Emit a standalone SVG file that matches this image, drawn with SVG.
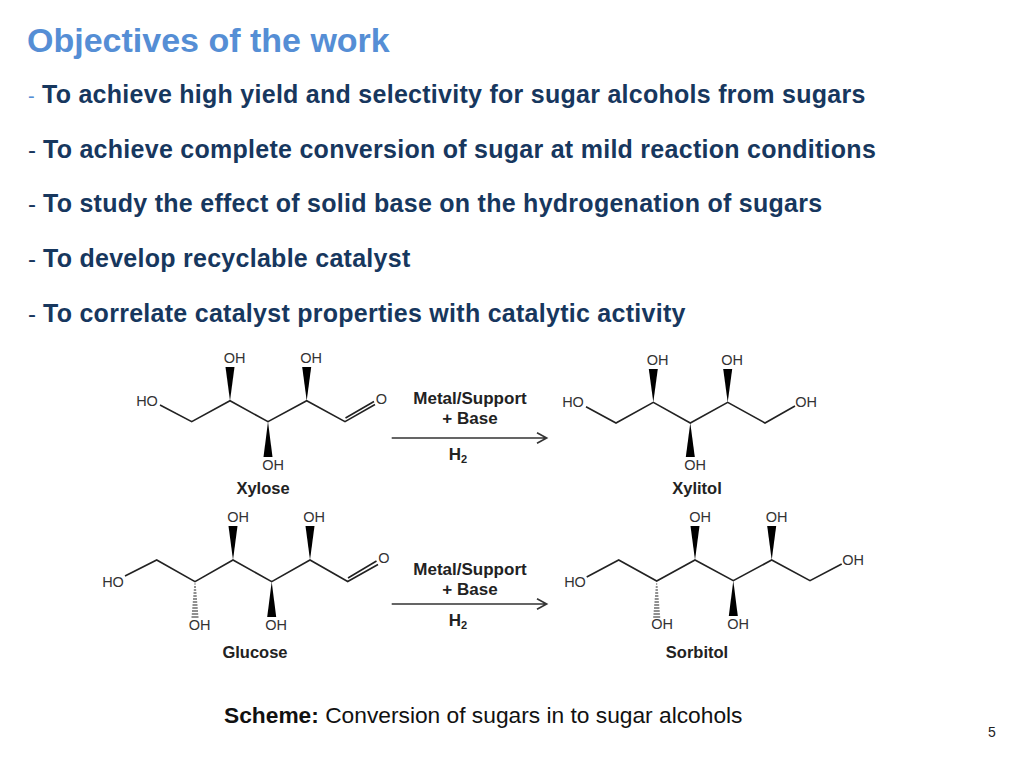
<svg xmlns="http://www.w3.org/2000/svg" width="1024" height="768" viewBox="0 0 1024 768">
<style>
text{font-family:"Liberation Sans",Arial,sans-serif}
.title{font-size:34px;font-weight:bold;fill:#558ed5}
.b{font-size:25px;font-weight:bold;fill:#17375e;letter-spacing:.27px}
.d{font-size:24px;fill:#17375e}
.bond{fill:none;stroke:#222;stroke-width:1.6;stroke-linejoin:miter}
.hash{fill:none;stroke:#222;stroke-width:1.2}
.w{fill:#000}
.a{font-size:14.5px;fill:#333;text-anchor:middle}
.n{font-size:16.5px;font-weight:bold;fill:#222;text-anchor:middle}
.r{font-size:17px;font-weight:bold;fill:#222;text-anchor:middle}
.arrow{fill:none;stroke:#333;stroke-width:1.6}
</style>
<rect width="1024" height="768" fill="#fff"/>
<g id="title"><text class="title" x="27" y="52">Objectives of the work</text></g>
<g id="objectives">
<text class="d" x="28" y="103" style="fill:#558ed5;font-size:20px">-</text><text class="b" x="42" y="103">To achieve high yield and selectivity for sugar alcohols from sugars</text>
<text class="d" x="28" y="158">-</text><text class="b" x="43" y="158">To achieve complete conversion of sugar at mild reaction conditions</text>
<text class="d" x="28" y="212">-</text><text class="b" x="43" y="212">To study the effect of solid base on the hydrogenation of sugars</text>
<text class="d" x="28" y="267">-</text><text class="b" x="43" y="267">To develop recyclable catalyst</text>
<text class="d" x="28" y="322">-</text><text class="b" x="43" y="322">To correlate catalyst properties with catalytic activity</text>
</g>
<g id="xylose">
<path class="bond" d="M160 405L191.700 421.700L230 400.700L268 421.700L306.700 400.700L345 421.700L375 404.500M345.500 418L374 401.500"/>
<path class="w" d="M230 400.700L225.500 367L234.500 367Z"/>
<path class="w" d="M306.700 400.700L302.200 367L311.200 367Z"/>
<path class="w" d="M268 421.700L263.500 457L272.500 457Z"/>
<text class="a" x="147" y="406">HO</text><text class="a" x="234.500" y="363">OH</text><text class="a" x="311" y="363">OH</text><text class="a" x="273" y="470">OH</text><text class="a" x="381.500" y="404">O</text>
<text class="n" x="263" y="494">Xylose</text>
</g>
<g id="glucose">
<path class="bond" d="M125 576L156.700 560L195 581.700L233 560L271.700 581.700L310 560L347.700 581.500L378 564.500M348 578L376.500 561"/>
<path class="w" d="M233 560L228.500 526L237.500 526Z"/>
<path class="w" d="M310 560L305.500 526L314.500 526Z"/>
<path class="w" d="M271.700 581.700L267.200 617L276.200 617Z"/>
<path class="hash" d="M194.500 584H195.500M194 587H196M193.800 590H196.200M193.500 593H196.500M193.300 596H196.700M193 599H197M192.800 602H197.200M192.500 605H197.500M192.300 608H197.700M192 611H198M191.800 614H198.200M191.500 617H198.500"/>
<text class="a" x="113" y="587">HO</text><text class="a" x="238" y="522">OH</text><text class="a" x="314" y="522">OH</text><text class="a" x="199.500" y="630">OH</text><text class="a" x="276" y="630">OH</text><text class="a" x="384" y="563">O</text>
<text class="n" x="255" y="658">Glucose</text>
</g>
<g id="xylitol">
<path class="bond" d="M586 406.700L616 423L653.300 402.300L690.300 423L727.700 402.300L765 423L795 406"/>
<path class="w" d="M653.300 402.300L648.800 369L657.800 369Z"/>
<path class="w" d="M727.700 402.300L723.200 369L732.200 369Z"/>
<path class="w" d="M690.300 423L685.800 457L694.800 457Z"/>
<text class="a" x="573" y="407">HO</text><text class="a" x="657.500" y="365">OH</text><text class="a" x="732" y="365">OH</text><text class="a" x="695" y="470">OH</text><text class="a" x="806" y="407">OH</text>
<text class="n" x="697" y="494">Xylitol</text>
</g>
<g id="sorbitol">
<path class="bond" d="M586.700 577L618.700 560L656.700 581L695 560L733.300 580.700L771.700 560L810 580.700L841.700 564"/>
<path class="w" d="M695 560L690.500 526L699.500 526Z"/>
<path class="w" d="M771.700 560L767.200 526L776.200 526Z"/>
<path class="w" d="M733.300 580.700L728.800 616L737.800 616Z"/>
<path class="hash" d="M656.200 584H657.200M655.700 587H657.700M655.500 590H657.900M655.200 593H658.200M655 596H658.400M654.700 599H658.700M654.500 602H658.900M654.200 605H659.200M654 608H659.400M653.700 611H659.700M653.500 614H659.900M653.200 617H660.200"/>
<text class="a" x="575" y="587">HO</text><text class="a" x="700" y="522">OH</text><text class="a" x="776.500" y="522">OH</text><text class="a" x="662" y="629">OH</text><text class="a" x="738" y="629">OH</text><text class="a" x="853" y="565">OH</text>
<text class="n" x="697" y="658">Sorbitol</text>
</g>
<g id="connectors">
<path class="arrow" d="M391.700 438H546.500M537 432.700L546.700 438L537 443.300"/>
<path class="arrow" d="M391.700 604H546.500M537 598.700L546.700 604L537 609.300"/>
</g>
<g id="reaction-labels">
<text class="r" x="470" y="404">Metal/Support</text><text class="r" x="470" y="424">+ Base</text>
<text class="r" x="458" y="460">H<tspan font-size="11" dy="3">2</tspan></text>
<text class="r" x="470" y="575">Metal/Support</text><text class="r" x="470" y="595">+ Base</text>
<text class="r" x="458" y="626">H<tspan font-size="11" dy="3">2</tspan></text>
</g>
<g id="caption"><text x="224" y="723" font-size="22.75" fill="#111"><tspan font-weight="bold">Scheme:</tspan> Conversion of sugars in to sugar alcohols</text></g>
<g id="page"><text x="988" y="737" font-size="14" fill="#222">5</text></g>
</svg>
